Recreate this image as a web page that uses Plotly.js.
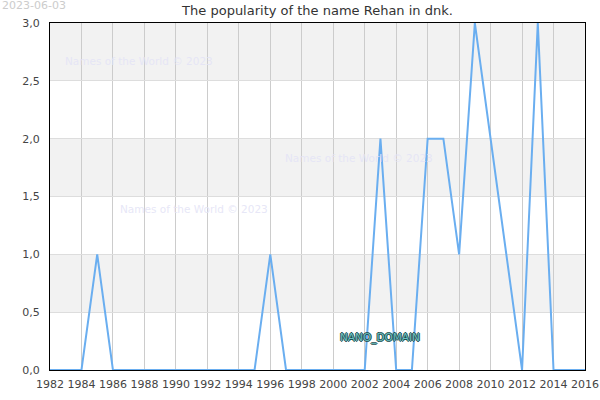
<!DOCTYPE html>
<html><head><meta charset="utf-8">
<script src="https://cdn.plot.ly/plotly-3.0.1.min.js"></script>
<style>html,body{margin:0;padding:0;background:#fff}</style>
</head><body><div id="chart" style="width:600px;height:400px"></div>
<script>
const years = [1982,1983,1984,1985,1986,1987,1988,1989,1990,1991,1992,1993,1994,1995,1996,1997,1998,1999,2000,2001,2002,2003,2004,2005,2006,2007,2008,2009,2010,2011,2012,2013,2014,2015,2016];
const values = [0,0,0,1,0,0,0,0,0,0,0,0,0,0,1,0,0,0,0,0,0,2,0,0,2,2,1,3,2,1,0,3,0,0,0];
const bandRanges = [[0.5,1],[1.5,2],[2.5,3]];
const titleText = 'The popularity of the name Rehan in dnk.';
const dateText = '2023-06-03';
const watermarkText = 'Names of the World © 2023';

const shapes = bandRanges.map(r => ({type:'rect', xref:'paper', yref:'y', x0:0, x1:1, y0:r[0], y1:r[1], fillcolor:'#f2f2f2', line:{width:0}, layer:'below'}));

const wmFont = {family:'DejaVu Sans', size:10.5, color:'rgba(228,228,246,0.9)'};
const annotations = [
  {text:dateText, xref:'paper', yref:'paper', x:-0.0935, y:1.049, xanchor:'left', yanchor:'middle', showarrow:false, font:{family:'DejaVu Sans', size:11, color:'#cccccc'}},
  {text:watermarkText, xref:'x', yref:'y', x:1982.8, y:2.67, xanchor:'left', yanchor:'middle', showarrow:false, font:wmFont},
  {text:watermarkText, xref:'x', yref:'y', x:1996.8, y:1.83, xanchor:'left', yanchor:'middle', showarrow:false, font:wmFont},
  {text:watermarkText, xref:'x', yref:'y', x:1986.3, y:1.39, xanchor:'left', yanchor:'middle', showarrow:false, font:wmFont},
  {text:'NANO_DOMAIN', xref:'x', yref:'y', x:2002.97, y:0.285, xanchor:'center', yanchor:'middle', showarrow:false,
   font:{family:'DejaVu Sans', size:10.5, color:'#6cc0c0',
     shadow:'1px 0 0 #1d4d50, -1px 0 0 #1d4d50, 0 1px 0 #1d4d50, 0 -1px 0 #1d4d50'}}
];

const trace = {x:years, y:values, type:'scatter', mode:'lines', line:{color:'#6aaef0', width:2}, hoverinfo:'skip'};

const layout = {
  width:600, height:400,
  margin:{l:50, r:15, t:23, b:30},
  paper_bgcolor:'#ffffff', plot_bgcolor:'rgba(0,0,0,0)',
  separators:',.',
  showlegend:false,
  title:{text:titleText, x:0.5, xref:'paper', y:0.975, yanchor:'middle', font:{family:'DejaVu Sans', size:13, color:'#333333'}},
  xaxis:{range:[1982,2016], dtick:2, tick0:1982, showgrid:true, gridcolor:'#cccccc', gridwidth:1,
    showline:true, linecolor:'#000000', linewidth:1, mirror:true, zeroline:false,
    ticks:'', ticklabelstandoff:4, tickfont:{family:'DejaVu Sans', size:11, color:'#444444'}},
  yaxis:{range:[0,3], dtick:0.5, tickformat:'.1f', showgrid:true, gridcolor:'#dddddd', gridwidth:1,
    showline:true, linecolor:'#000000', linewidth:1, mirror:true, zeroline:false,
    ticks:'', ticklabelstandoff:7, tickfont:{family:'DejaVu Sans', size:11, color:'#444444'}},
  shapes:shapes,
  annotations:annotations
};

Plotly.newPlot('chart', [trace], layout, {displayModeBar:false, staticPlot:true});
</script></body></html>
